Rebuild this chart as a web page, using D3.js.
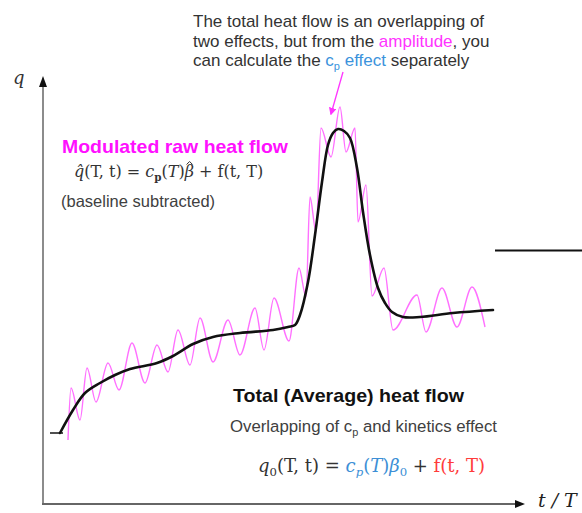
<!DOCTYPE html>
<html>
<head>
<meta charset="utf-8">
<script src="https://cdn.jsdelivr.net/npm/d3@7/dist/d3.min.js"></script>
<style>
  html, body { margin: 0; padding: 0; background: #fff; }
  svg { display: block; }
</style>
</head>
<body>
<svg id="chart" width="582" height="513"></svg>
<script>
// ---- Data (arbitrary units) ----
// Total (average) heat flow q0
const meanT = [3.4, 6.0, 8.4, 11.4, 14.4, 17.4, 22.8, 26.0, 30.0, 34.0, 39.4, 46.0, 49.0, 50.4, 51.4, 53.0, 54.4, 55.8, 57.0, 58.0, 59.0, 60.2, 61.4, 62.8, 64.0, 65.4, 67.0, 68.4, 69.8, 72.0, 75.4, 82.0, 90.0];
const meanQ = [14.2, 18.8, 22.2, 24.2, 25.8, 27.0, 28.2, 29.6, 32.0, 33.4, 34.2, 34.8, 35.4, 35.8, 37.8, 44.4, 53.8, 64.4, 71.8, 74.2, 75.0, 74.6, 73.2, 67.2, 58.4, 49.8, 43.2, 40.2, 38.4, 37.4, 37.4, 38.2, 38.8];
// small foot at the start of the average curve
const footT = [1.4, 4.0];
const footQ = [14.2, 14.2];
// Modulated raw heat flow (peaks and troughs of the oscillation)
const rawT = [5.0, 5.6, 7.4, 8.8, 10.6, 13.0, 15.2, 17.8, 20.4, 22.8, 25.0, 27.0, 29.4, 31.4, 34.0, 37.0, 39.4, 42.4, 44.2, 46.2, 49.2, 51.2, 52.6, 53.4, 54.6, 55.6, 57.6, 59.4, 60.6, 62.4, 63.0, 64.6, 65.8, 68.2, 70.0, 74.8, 76.6, 79.8, 82.8, 85.8, 88.4];
const rawQ = [12.8, 23.2, 16.8, 27.2, 20.4, 28.2, 22.8, 32.2, 24.2, 31.8, 26.4, 34.8, 27.8, 37.2, 28.4, 36.8, 29.8, 39.2, 30.8, 41.2, 32.6, 47.2, 41.4, 61.4, 54.4, 75.2, 69.4, 79.4, 70.4, 75.2, 56.4, 63.8, 41.6, 47.2, 34.8, 41.8, 34.4, 43.2, 35.4, 43.4, 35.4];
// stray reference line at right
const refT = [90.4, 107.8];
const refQ = [50.7, 50.7];
// annotation arrow (from text to peak)
const arrowT = [60.0, 57.6];
const arrowQ = [86.4, 78.0];

const axisLabels = ["q", "t / T"];

// ---- Scales ----
const x = d3.scaleLinear().domain([0, 100]).range([43, 543]);
const y = d3.scaleLinear().domain([0, 86]).range([504, 74]);

const svg = d3.select("#chart");
const defs = svg.append("defs");
defs.append("marker").attr("id", "pinkArrow")
  .attr("viewBox", "0 0 10 10").attr("refX", 8).attr("refY", 5)
  .attr("markerWidth", 6).attr("markerHeight", 6).attr("orient", "auto")
  .append("path").attr("d", "M0,0 L10,5 L0,10 z").attr("fill", "#ff33ff");

// ---- Axes ----
const x0 = x(0), y0 = y(0);
svg.append("line").attr("x1", x0).attr("x2", x0).attr("y1", y0 + 1).attr("y2", y(84.6))
  .attr("stroke", "#8c8c8c").attr("stroke-width", 2);
svg.append("path")
  .attr("d", `M${x0 - 4},${y(83.4)} L${x0},${y(85.6)} L${x0 + 4},${y(83.4)} Z`)
  .attr("fill", "#111");
svg.append("line").attr("x1", x0 - 1).attr("x2", x(95.4)).attr("y1", y0).attr("y2", y0)
  .attr("stroke", "#666").attr("stroke-width", 2);
svg.append("path")
  .attr("d", `M${x(94.4)},${y0 - 4} L${x(96.4)},${y0} L${x(94.4)},${y0 + 4} Z`)
  .attr("fill", "#111");

svg.append("text").attr("x", 13).attr("y", 84)
  .attr("font-family", "'DejaVu Serif', serif").attr("font-style", "italic")
  .attr("font-size", 18).attr("fill", "#333").text(axisLabels[0]);
svg.append("text").attr("x", 538).attr("y", 507)
  .attr("font-family", "'DejaVu Serif', serif").attr("font-style", "italic")
  .attr("font-size", 19).attr("fill", "#222").text(axisLabels[1]);

// reference line
svg.append("line").attr("x1", x(refT[0])).attr("x2", x(refT[1]))
  .attr("y1", y(refQ[0])).attr("y2", y(refQ[1]))
  .attr("stroke", "#111").attr("stroke-width", 2);

// ---- Curves ----
const rawPts = rawT.map((t, i) => [t, rawQ[i]]);
const meanPts = meanT.map((t, i) => [t, meanQ[i]]);

svg.append("path").datum(rawPts)
  .attr("d", d3.line().x(d => x(d[0])).y(d => y(d[1])).curve(d3.curveMonotoneX))
  .attr("fill", "none").attr("stroke", "#ff70ff").attr("stroke-width", 1.4);

svg.append("line").attr("x1", x(footT[0])).attr("x2", x(footT[1]))
  .attr("y1", y(footQ[0])).attr("y2", y(footQ[1]))
  .attr("stroke", "#222").attr("stroke-width", 1.6);

svg.append("path").datum(meanPts)
  .attr("d", d3.line().x(d => x(d[0])).y(d => y(d[1])).curve(d3.curveCatmullRom.alpha(0.5)))
  .attr("fill", "none").attr("stroke", "#111").attr("stroke-width", 2.6)
  .attr("stroke-linejoin", "round").attr("stroke-linecap", "round");

// annotation arrow
svg.append("line").attr("x1", x(arrowT[0])).attr("y1", y(arrowQ[0]))
  .attr("x2", x(arrowT[1])).attr("y2", y(arrowQ[1]))
  .attr("stroke", "#ff33ff").attr("stroke-width", 1.3)
  .attr("marker-end", "url(#pinkArrow)");

// ---- Texts ----
const sans = "'Liberation Sans', Arial, sans-serif";
const serif = "'DejaVu Serif', serif";

function addText(xp, yp, parts, opts) {
  const t = svg.append("text").attr("x", xp).attr("y", yp)
    .attr("font-family", opts.family).attr("font-size", opts.size)
    .attr("fill", opts.fill || "#333");
  if (opts.weight) t.attr("font-weight", opts.weight);
  if (opts.len) t.attr("textLength", opts.len).attr("lengthAdjust", "spacingAndGlyphs");
  parts.forEach(p => {
    const s = t.append("tspan").text(p.t);
    if (p.fill) s.attr("fill", p.fill);
    if (p.it) s.attr("font-style", "italic");
    if (p.sub) s.attr("font-size", opts.size * 0.65).attr("dy", opts.size * 0.22);
    if (p.back) s.attr("dy", -opts.size * 0.22);
    if (p.b) s.attr("font-weight", "bold");
    if (p.hat) s.classed("hatted", true);
  });
  // draw a small circumflex above characters marked "hat"
  t.selectAll("tspan.hatted").each(function () {
    const bb = this.getBBox();
    const cx = bb.x + bb.width * 0.58, top = bb.y + 1;
    svg.append("path")
      .attr("d", `M${cx - 3},${top + 1.5} L${cx},${top - 1.5} L${cx + 3},${top + 1.5}`)
      .attr("fill", "none").attr("stroke", opts.fill || "#333").attr("stroke-width", 1);
  });
  return t;
}

// top annotation
addText(193, 27, [{t: "The total heat flow is an overlapping of"}], {family: sans, size: 17, fill: "#333"});
addText(193, 47, [{t: "two effects, but from the "}, {t: "amplitude", fill: "#ff33ff"}, {t: ", you"}], {family: sans, size: 17, fill: "#333"});
addText(193, 66, [{t: "can calculate the "}, {t: "c", fill: "#3b93dc"}, {t: "p", fill: "#3b93dc", sub: true},
  {t: " effect", fill: "#3b93dc", back: true}, {t: " separately"}], {family: sans, size: 17, fill: "#333"});

// modulated raw heat flow block
addText(62, 153, [{t: "Modulated raw heat flow"}], {family: sans, size: 18.5, weight: "bold", fill: "#ff10ff", len: 226});
addText(74, 177, [{t: "q\u0302", it: true}, {t: "(T, t) = "}, {t: "c", it: true}, {t: "p", sub: true, b: true},
  {t: "(", back: true}, {t: "T", it: true}, {t: ")"}, {t: "\u03B2", it: true, hat: true},
  {t: " + f(t, T)"}],
  {family: serif, size: 16, fill: "#333"});
addText(61, 207, [{t: "(baseline subtracted)"}], {family: sans, size: 16.5, fill: "#404040"});

// total heat flow block
addText(233, 402, [{t: "Total (Average) heat flow"}], {family: sans, size: 19, weight: "bold", fill: "#111", len: 231});
addText(230, 432, [{t: "Overlapping of c"}, {t: "p", sub: true}, {t: " and kinetics effect", back: true}],
  {family: sans, size: 16.8, fill: "#404040"});
addText(258, 472, [{t: "q", it: true}, {t: "0", sub: true}, {t: "(T, t) = ", back: true},
  {t: "c", it: true, fill: "#3d8fd6"}, {t: "p", it: true, sub: true, fill: "#3d8fd6"},
  {t: "(", back: true, fill: "#3d8fd6"}, {t: "T", it: true, fill: "#3d8fd6"}, {t: ")", fill: "#3d8fd6"},
  {t: "\u03B2", it: true, fill: "#3d8fd6"}, {t: "0", sub: true, fill: "#3d8fd6"},
  {t: " + ", back: true}, {t: "f(t, T)", fill: "#ff3b3b"}],
  {family: serif, size: 18, fill: "#333"});
</script>
</body>
</html>
